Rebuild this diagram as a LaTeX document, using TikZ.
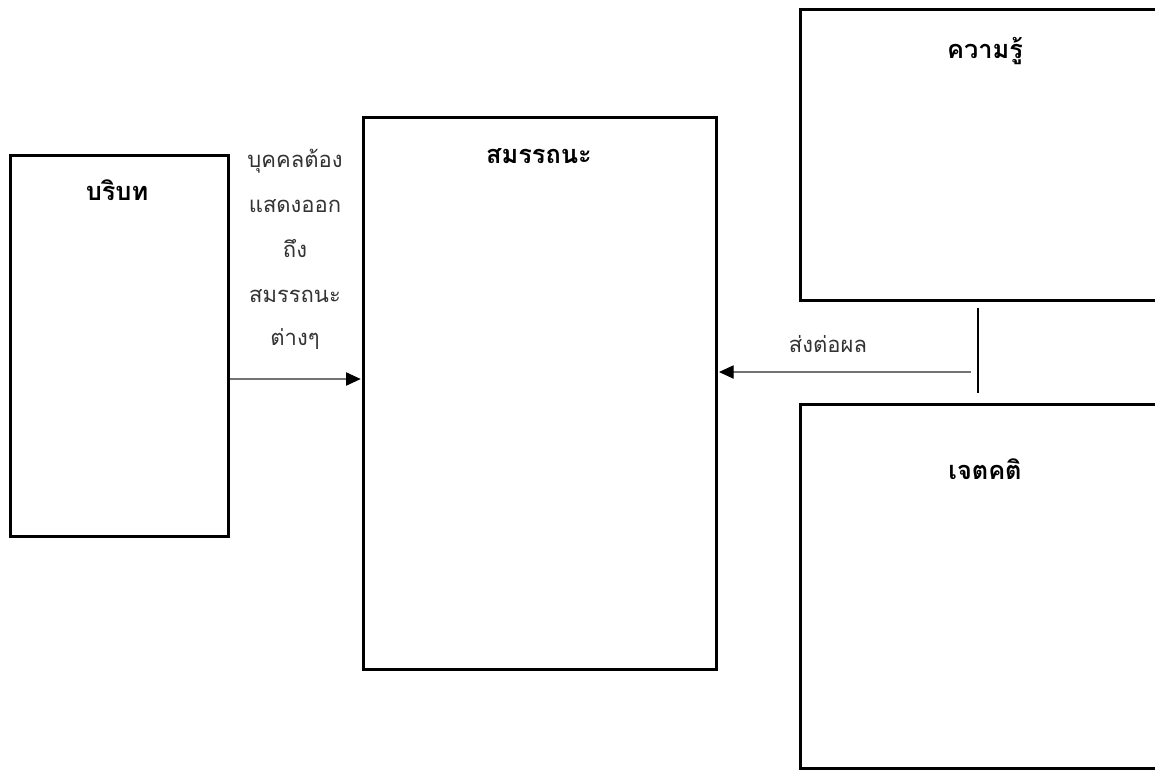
\documentclass[tikz,border=0pt]{standalone}
\usepackage{fontspec}
\usetikzlibrary{arrows.meta}
\newfontfamily\thaifont[Script=Thai]{Loma}
\begin{document}
\begin{tikzpicture}[x=0.75pt,y=-0.75pt,
  box/.style={draw=black,line width=2pt,fill=white,inner sep=0pt,anchor=north west},
  title/.style={font=\thaifont\fontsize{19}{22}\selectfont\bfseries,anchor=base,inner sep=0pt},
  lbl/.style={font=\thaifont\fontsize{16.5}{20}\selectfont,text=black!80,anchor=base,inner sep=0pt},
  conn/.style={draw=black!55,line width=0.8pt,-{Triangle[length=11pt,width=10pt,color=black,fill=black]}},
  bar/.style={draw=black,line width=0.8pt}]
\useasboundingbox (0,0) rectangle (1155,769);
\clip (0,0) rectangle (1155,769);

% boxes
\node[box,minimum width={218*0.75pt},minimum height={381*0.75pt}] (ctx) at (9,154) {};
\node[box,minimum width={353*0.75pt},minimum height={552*0.75pt}] (comp) at (362,116) {};
\node[box,minimum width={420*0.75pt},minimum height={291*0.75pt}] (know) at (799,8) {};
\node[box,minimum width={420*0.75pt},minimum height={364*0.75pt}] (att) at (799,403) {};

% box titles
\node[title] (ctxT) at (117,200) {บริบท};
\node[title] (compT) at (539,163) {สมรรถนะ};
\node[title] (knowT) at (985,58) {ความรู้};
\node[title] (attT) at (985,479) {เจตคติ};

% label beside the left arrow
\node[lbl] (l1) at (295,167) {บุคคลต้อง};
\node[lbl] (l2) at (295,212) {แสดงออก};
\node[lbl] (l3) at (295,257) {ถึง};
\node[lbl] (l4) at (295,302) {สมรรถนะ};
\node[lbl] (l5) at (295,345) {ต่างๆ};

% label above the right arrow
\node[lbl] (r1) at (828,352) {ส่งต่อผล};

% connectors
\coordinate (a1) at (227,379);
\draw[conn] (ctx.east |- a1) -- ([xshift=-1pt]comp.west |- a1);

\coordinate (jTop) at (978,308);
\coordinate (jBot) at (978,393);
\coordinate (a2) at (971,372);
\draw[bar] (jTop) -- (jBot);
\draw[conn] (a2) -- ([xshift=1pt]comp.east |- a2);
\end{tikzpicture}
\end{document}
